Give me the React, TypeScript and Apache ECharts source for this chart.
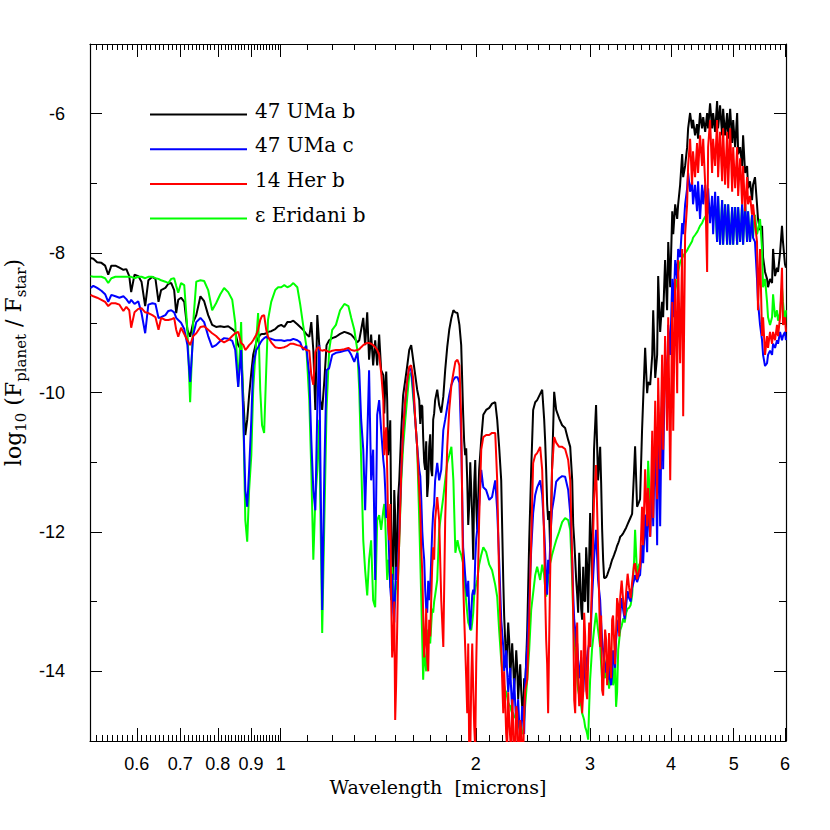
import React, { useEffect, useRef } from "react";
import * as echarts from "echarts";

// Wavelength grid in microns (shared by all four model spectra)
const WAVELENGTH = [
  0.509,0.514,0.521,0.529,0.536,0.542,0.548,0.556,0.564,0.572,
  0.578,0.584,0.588,0.595,0.603,0.610,0.618,0.625,0.634,0.641,
  0.648,0.654,0.664,0.671,0.678,0.685,0.690,0.695,0.702,0.710,
  0.718,0.725,0.733,0.741,0.752,0.762,0.773,0.784,0.795,0.807,
  0.818,0.830,0.842,0.851,0.860,0.869,0.876,0.882,0.888,0.894,
  0.901,0.907,0.917,0.923,0.930,0.936,0.943,0.950,0.956,0.967,
  0.981,0.991,1.002,1.013,1.024,1.035,
  1.046,1.061,1.072,1.083,1.095,1.107,1.115,1.123,1.131,1.139,
  1.147,1.151,1.159,1.168,1.177,1.188,1.201,1.217,1.235,1.254,
  1.272,1.285,1.299,1.313,1.322,1.331,1.341,1.350,1.360,1.369,
  1.379,1.389,1.399,1.409,1.419,1.429,1.440,1.450,1.460,1.471,
  1.481,1.492,1.502,1.513,1.524,1.535,1.545,1.557,1.568,1.579,
  1.590,1.601,1.613,1.624,1.636,1.648,1.659,1.671,1.683,1.695,
  1.707,1.719,1.731,1.744,1.756,1.769,1.782,1.794,1.807,1.820,
  1.834,1.847,1.860,1.874,1.887,1.899,1.912,1.926,1.940,1.954,
  1.968,1.982,1.996,2.010,2.024,2.039,2.054,2.075,2.098,2.119,
  2.143,2.158,2.173,2.189,2.205,2.220,2.236,2.252,2.268,2.284,
  2.301,2.317,2.334,2.350,2.367,2.384,2.401,2.418,2.435,2.452,
  2.470,2.487,2.514,2.532,2.550,2.568,2.586,2.604,2.622,2.642,
  2.661,2.689,2.718,2.747,2.777,2.797,2.817,2.837,2.857,2.877,
  2.898,2.918,2.939,2.960,2.981,3.002,3.022,3.044,3.066,3.088,
  3.111,3.133,3.155,3.178,3.200,3.223,3.246,3.269,3.292,3.317,
  3.341,3.376,3.412,3.448,3.485,3.510,3.522,3.547,3.572,
  3.585,3.610,3.624,3.650,3.676,3.689,3.716,3.743,3.756,3.783,
  3.809,3.823,3.850,3.877,3.891,3.918,3.946,3.962,3.990,4.019,
  4.033,4.061,4.090,4.104,4.133,4.163,4.178,4.207,4.237,4.252,
  4.282,4.312,4.327,4.358,4.389,4.405,4.436,4.468,4.486,4.518,
  4.549,4.565,4.597,4.630,4.647,4.680,4.713,4.730,4.763,4.798,
  4.815,4.849,4.884,4.902,4.937,4.972,4.990,5.025,5.061,5.079,
  5.115,5.151,5.169,5.206,5.243,5.261,5.298,5.336,5.355,5.392,
  5.431,5.450,5.490,5.529,5.549,5.588,5.628,5.648,5.688,5.729,
  5.750,5.790,5.831,5.852,5.894,5.935,5.956,5.998,6.019,
];

// log10(F_planet / F_star)
const UMA_B = [
  -8.07,-8.08,-8.13,-8.14,-8.18,-8.31,-8.18,-8.18,-8.21,-8.24,
  -8.23,-8.33,-8.56,-8.31,-8.33,-8.41,-8.76,-8.39,-8.34,-8.37,
  -8.70,-8.53,-8.50,-8.44,-8.43,-8.53,-8.86,-8.67,-8.64,-8.70,
  -9.10,-9.20,-8.99,-8.89,-8.62,-8.69,-8.89,-9.03,-9.06,-9.05,
  -9.06,-9.05,-9.09,-9.13,-9.32,-9.39,-10.11,-10.61,-10.39,-10.04,
  -9.71,-9.46,-9.28,-9.22,-9.17,-9.16,-9.16,-9.15,-9.13,-9.12,
  -9.09,-9.05,-9.03,-9.06,-8.99,-8.99,
  -8.97,-9.02,-9.06,-9.10,-9.16,-9.20,-8.99,-9.39,-10.25,-8.89,
  -9.32,-10.11,-10.25,-9.82,-9.32,-9.25,-9.22,-9.20,-9.16,-9.13,
  -9.15,-9.17,-9.22,-9.28,-9.25,-9.10,-8.93,-9.32,-8.85,-9.53,
  -9.17,-9.61,-9.25,-9.61,-9.17,-9.68,-9.75,-9.89,-10.11,-10.68,
  -11.83,-12.69,-11.76,-12.19,-11.26,-10.54,-10.04,-9.82,-9.61,-9.39,
  -9.32,-9.53,-9.75,-9.96,-10.11,-10.18,-10.64,-11.11,-11.50,-10.78,
  -11.11,-10.39,-10.11,-9.96,-10.18,-10.29,-10.06,-9.68,-9.35,-9.10,
  -8.93,-8.82,-8.85,-8.86,-9.03,-9.32,-10.29,-10.90,-11.26,-11.61,
  -11.40,-12.40,-10.97,-11.97,-11.11,-10.68,-10.32,-10.25,-10.22,-10.16,
  -10.14,-10.39,-10.78,-11.26,-12.69,-13.55,-13.65,-13.55,-13.84,-13.88,
  -14.02,-13.95,-14.12,-14.27,-14.60,-14.23,-13.41,-12.12,-11.11,-10.25,
  -10.14,-10.11,-10.02,-9.96,-10.39,-11.11,-11.83,-12.22,-11.11,-9.99,
  -10.25,-10.37,-10.47,-10.51,-10.68,-10.78,-11.26,-12.12,-12.69,-13.16,
  -12.69,-13.26,-12.98,-12.22,-13.16,-11.73,-12.69,-10.82,-10.18,-11.26,
  -10.78,-11.97,-12.66,-12.65,-12.58,-12.50,-12.40,-12.33,-12.25,-12.16,
  -12.07,-12.02,-11.94,-11.84,-11.74,-11.11,-10.77,-11.64,-11.57,
  -11.53,-10.55,-10.12,-9.36,-10.01,-9.85,-9.89,-9.46,-8.82,-9.79,
  -9.46,-8.33,-9.13,-8.70,-8.92,-8.10,-8.82,-7.84,-8.49,-7.40,
  -7.73,-7.30,-7.51,-7.30,-7.02,-6.58,-6.91,-6.75,-6.48,-6.21,
  -5.99,-6.21,-6.09,-6.31,-6.15,-6.36,-5.99,-6.21,-6.05,-6.26,
  -5.99,-6.21,-5.85,-6.21,-5.99,-6.26,-5.82,-6.21,-5.88,-6.31,
  -5.93,-6.31,-5.99,-6.36,-5.93,-6.42,-6.09,-6.48,-5.99,-6.58,
  -6.48,-6.75,-6.31,-6.85,-6.75,-7.07,-6.97,-7.24,-7.02,-6.91,
  -7.30,-7.51,-7.67,-7.61,-8.06,-8.27,-8.37,-8.49,-8.37,-8.43,
  -7.94,-8.33,-8.21,-8.27,-8.00,-7.61,-7.84,-8.16,-8.21,
];

const UMA_C = [
  -8.50,-8.47,-8.50,-8.54,-8.59,-8.70,-8.60,-8.62,-8.64,-8.62,
  -8.66,-8.72,-8.67,-8.73,-8.69,-8.86,-9.15,-8.74,-8.72,-8.73,
  -8.93,-8.92,-8.89,-8.83,-8.82,-8.85,-8.93,-8.96,-9.00,-9.09,
  -9.32,-9.85,-9.17,-8.99,-8.93,-8.99,-9.19,-9.35,-9.32,-9.26,
  -9.22,-9.23,-9.26,-9.39,-9.92,-9.39,-10.39,-11.40,-11.64,-11.11,
  -10.39,-9.61,-9.39,-9.35,-9.29,-9.25,-9.22,-9.20,-9.22,-9.23,
  -9.25,-9.25,-9.25,-9.26,-9.25,-9.25,
  -9.23,-9.25,-9.28,-9.39,-9.33,-9.75,-10.68,-11.40,-11.69,-10.25,
  -9.32,-10.82,-13.12,-11.11,-9.68,-9.65,-9.46,-9.43,-9.42,-9.40,
  -9.39,-9.46,-9.56,-9.43,-9.68,-10.39,-10.82,-11.69,-10.68,-9.68,
  -11.26,-10.82,-12.69,-10.32,-10.11,-10.54,-10.97,-11.40,-11.69,-12.40,
  -12.98,-13.16,-12.83,-12.69,-11.97,-11.11,-10.54,-10.11,-9.82,-9.65,
  -9.68,-9.96,-10.39,-10.78,-11.11,-11.54,-12.22,-12.83,-13.16,-12.98,
  -12.40,-11.73,-11.26,-11.01,-11.26,-11.11,-10.54,-10.39,-10.21,-10.04,
  -9.89,-9.82,-9.78,-9.78,-9.86,-10.68,-12.22,-12.62,-12.93,-13.12,
  -13.16,-12.83,-12.40,-11.97,-11.61,-11.11,-11.36,-11.40,-11.54,-11.50,
  -11.26,-11.69,-12.40,-13.26,-13.65,-13.84,-14.02,-14.12,-14.27,-14.37,
  -14.48,-14.60,-14.77,-14.84,-14.60,-14.12,-13.65,-12.98,-12.26,-11.73,
  -11.47,-11.36,-11.26,-11.47,-11.97,-12.69,-12.40,-12.22,-11.69,-11.50,
  -11.28,-11.23,-11.20,-11.21,-11.40,-11.73,-12.40,-13.26,-13.65,-13.84,
  -13.98,-14.12,-14.05,-13.88,-13.69,-13.65,-12.98,-12.40,-11.97,-12.69,
  -12.98,-13.55,-13.84,-14.02,-14.12,-14.12,-14.05,-13.84,-13.55,-13.26,
  -13.19,-13.12,-13.05,-12.95,-12.80,-12.69,-12.62,-12.72,-12.63,
  -12.62,-12.19,-12.45,-11.75,-12.29,-11.53,-12.07,-11.31,-11.92,-10.55,
  -12.19,-10.28,-11.92,-9.79,-11.10,-9.46,-10.01,-9.03,-9.46,-8.37,
  -8.92,-8.10,-8.37,-7.94,-8.06,-7.57,-7.73,-7.30,-7.07,-6.85,
  -7.12,-6.97,-7.30,-7.02,-7.40,-6.97,-7.51,-7.02,-7.30,-7.02,
  -7.45,-7.07,-7.57,-7.18,-7.73,-7.12,-7.84,-7.18,-7.88,-7.24,
  -7.88,-7.30,-7.88,-7.30,-7.88,-7.34,-7.88,-7.34,-7.88,-7.34,
  -7.84,-7.30,-7.88,-7.30,-7.84,-7.40,-7.84,-7.45,-7.78,-7.84,
  -8.37,-8.70,-9.03,-9.25,-9.46,-9.62,-9.58,-9.46,-9.40,-9.46,
  -9.30,-9.36,-9.25,-9.30,-9.13,-9.25,-9.19,-9.13,-9.25,
];

const HER_B = [
  -8.60,-8.62,-8.64,-8.67,-8.70,-8.76,-8.72,-8.72,-8.74,-8.83,
  -8.77,-8.82,-9.07,-8.85,-8.80,-8.79,-8.85,-8.86,-8.89,-8.92,
  -9.10,-8.93,-8.96,-8.96,-8.95,-8.93,-9.10,-9.20,-9.07,-9.16,
  -9.25,-9.32,-9.19,-9.15,-9.06,-9.05,-9.10,-9.15,-9.19,-9.25,
  -9.28,-9.25,-9.19,-9.15,-9.13,-9.29,-9.32,-9.39,-9.36,-9.32,
  -9.29,-9.25,-9.17,-9.10,-8.96,-8.90,-8.89,-9.10,-9.20,-9.28,
  -9.35,-9.36,-9.36,-9.35,-9.33,-9.30,
  -9.30,-9.32,-9.33,-9.36,-9.39,-9.40,-9.75,-9.89,-9.42,-9.36,
  -9.35,-9.39,-9.40,-9.39,-9.40,-9.42,-9.40,-9.39,-9.39,-9.38,
  -9.36,-9.39,-9.40,-9.39,-9.38,-9.35,-9.32,-9.30,-9.29,-9.29,
  -9.30,-9.32,-9.35,-9.39,-9.46,-9.71,-10.11,-10.68,-11.11,-12.12,
  -12.98,-13.55,-14.70,-13.34,-12.12,-11.11,-10.54,-10.11,-9.82,-9.63,
  -9.61,-9.79,-10.39,-10.78,-11.40,-12.26,-13.16,-13.55,-13.84,-13.26,
  -12.98,-12.22,-11.83,-11.50,-11.83,-12.98,-13.65,-11.83,-10.78,-10.25,
  -9.89,-9.72,-9.56,-9.53,-9.61,-10.39,-12.69,-13.65,-14.60,-15.20,
  -14.12,-14.27,-15.10,-13.16,-11.83,-10.82,-10.64,-10.61,-10.61,-10.58,
  -10.58,-11.26,-12.69,-13.69,-14.60,-14.41,-15.10,-14.70,-15.20,-14.70,
  -15.20,-14.60,-15.20,-14.84,-15.20,-14.27,-14.12,-13.26,-12.12,-11.01,
  -10.90,-10.87,-10.78,-11.11,-12.12,-13.55,-14.60,-12.69,-11.11,-10.64,
  -10.72,-10.78,-10.78,-10.81,-10.97,-11.26,-12.40,-14.41,-13.65,-14.12,
  -14.41,-14.60,-13.16,-14.27,-13.84,-13.65,-12.69,-11.54,-11.04,-12.22,
  -13.65,-14.27,-13.84,-13.55,-13.98,-13.88,-13.26,-13.55,-13.41,-13.05,
  -12.93,-12.98,-12.86,-12.80,-12.72,-12.47,-12.45,-12.68,-12.55,
  -12.50,-11.64,-12.19,-11.10,-11.92,-11.37,-12.07,-10.55,-11.80,-10.12,
  -11.53,-9.79,-11.10,-9.46,-10.82,-9.19,-10.55,-8.92,-11.26,-8.70,
  -10.55,-8.37,-10.01,-8.10,-9.58,-7.94,-10.34,-7.73,-7.30,-6.75,
  -6.36,-7.02,-6.54,-6.91,-6.42,-6.85,-6.31,-6.75,-6.36,-7.02,
  -8.27,-6.48,-6.09,-6.85,-6.36,-6.75,-6.09,-6.91,-6.26,-6.97,
  -6.21,-7.02,-6.26,-7.07,-6.21,-7.12,-6.48,-7.07,-6.48,-7.18,
  -6.64,-7.30,-6.75,-7.40,-6.91,-7.30,-7.18,-7.45,-7.30,-7.57,
  -7.84,-8.82,-7.94,-9.19,-8.92,-9.46,-9.19,-9.36,-9.13,-9.30,
  -9.13,-9.25,-9.03,-9.19,-8.92,-8.21,-9.03,-8.92,-9.13,
];

const ERI_B = [
  -8.33,-8.34,-8.34,-8.34,-8.36,-8.43,-8.36,-8.34,-8.34,-8.34,
  -8.34,-8.34,-8.34,-8.36,-8.34,-8.34,-8.36,-8.34,-8.34,-8.36,
  -8.37,-8.39,-8.41,-8.43,-8.37,-8.36,-8.47,-8.57,-8.43,-8.46,
  -9.10,-10.14,-8.99,-8.41,-8.39,-8.40,-8.53,-8.82,-8.72,-8.59,
  -8.50,-8.56,-8.67,-9.00,-9.92,-8.99,-10.39,-11.83,-12.14,-11.40,
  -10.90,-9.96,-9.25,-8.86,-9.96,-10.47,-10.58,-9.68,-8.96,-8.70,
  -8.53,-8.49,-8.49,-8.46,-8.49,-8.47,
  -8.43,-8.49,-8.74,-9.03,-9.32,-10.11,-11.11,-12.40,-11.54,-11.11,
  -10.39,-11.54,-13.45,-11.83,-10.25,-9.39,-9.10,-9.03,-8.82,-8.73,
  -8.76,-8.93,-9.10,-9.39,-9.96,-10.97,-12.12,-12.55,-12.91,-12.40,
  -12.12,-12.98,-13.08,-11.83,-11.76,-11.97,-11.69,-11.83,-12.69,-12.47,
  -12.62,-12.83,-12.98,-12.83,-12.12,-11.26,-10.78,-10.39,-10.06,-9.75,
  -9.72,-10.06,-10.39,-10.78,-11.83,-12.98,-14.12,-13.84,-13.65,-13.55,
  -13.34,-13.16,-12.91,-12.69,-11.97,-11.73,-11.50,-11.26,-11.01,-10.90,
  -10.78,-11.26,-12.30,-12.12,-12.26,-12.33,-12.45,-12.83,-13.16,-13.34,
  -13.41,-13.16,-12.83,-12.69,-12.47,-12.33,-12.22,-12.29,-12.47,-12.55,
  -12.76,-12.93,-13.41,-13.84,-14.12,-14.27,-14.37,-14.48,-14.56,-14.60,
  -14.66,-14.70,-14.81,-14.89,-14.84,-14.48,-14.12,-13.69,-13.12,-12.88,
  -12.62,-12.50,-12.69,-12.47,-12.62,-12.93,-12.69,-12.45,-12.33,-12.22,
  -12.12,-12.00,-11.86,-11.80,-11.83,-11.97,-12.69,-13.55,-13.88,-14.27,
  -14.41,-14.60,-14.70,-14.84,-14.98,-14.12,-13.69,-13.41,-13.16,-13.41,
  -13.65,-14.12,-13.98,-13.88,-14.05,-14.12,-13.84,-14.12,-14.51,-13.69,
  -13.41,-13.24,-13.16,-13.09,-12.91,-12.40,-11.97,-12.62,-12.47,
  -12.45,-12.29,-12.19,-12.04,-11.92,-10.98,-11.64,-11.33,-11.10,-10.97,
  -10.82,-10.68,-10.44,-10.17,-10.01,-9.89,-9.73,-9.53,-9.19,-8.93,
  -8.70,-8.53,-8.39,-8.27,-8.13,-8.07,-8.04,-8.00,-7.96,-7.93,
  -7.88,-7.83,-7.78,-7.74,-7.70,-7.67,-7.61,-7.57,-7.53,-7.48,
  -7.44,-7.41,-7.38,-7.35,-7.34,-7.32,-7.84,-7.18,-7.88,-7.24,
  -7.88,-7.30,-7.88,-7.30,-7.88,-7.34,-7.88,-7.34,-7.88,-7.34,
  -7.84,-7.30,-7.88,-7.30,-7.84,-7.40,-7.84,-7.45,-7.78,-7.45,
  -7.73,-7.67,-7.51,-7.94,-8.49,-8.37,-8.70,-8.92,-9.03,-8.92,
  -8.59,-8.92,-8.82,-8.97,-8.86,-8.49,-8.70,-9.03,-8.82,
];

// Extra samples read inside the densest absorption bands (same units)
const WAVELENGTH_FINE = [
  1.445,1.455,1.465,1.476,1.486,1.497,1.507,1.518,
  1.642,1.654,1.665,1.677,1.689,1.701,1.713,1.725,
  1.919,1.933,1.947,1.961,1.975,1.989,2.003,
  2.212,2.228,2.244,2.260,2.276,2.292,2.309,2.325,2.342,2.358,2.375,
  2.559,2.577,2.595,2.613,
  2.827,2.847,2.867,2.888,2.908,2.929,2.950,2.971,2.992,
  3.122,3.144,3.166,3.189,3.211,3.234,3.257,3.280,3.304,3.329,3.358,3.394,3.430,3.467,
];
const UMA_B_FINE = [
  -10.30,-9.70,-10.90,-10.40,-12.40,-11.40,-12.60,-11.50,
  -10.45,-10.20,-11.00,-10.70,-11.30,-10.60,-11.20,-10.30,
  -10.70,-10.80,-11.90,-11.00,-11.80,-11.30,-11.60,
  -13.20,-13.95,-13.30,-14.10,-13.60,-14.25,-13.70,-14.40,-13.90,-14.50,-14.10,
  -10.70,-11.60,-11.70,-11.80,
  -11.90,-12.40,-12.90,-12.30,-13.10,-12.50,-13.00,-12.50,-12.40,
  -11.30,-12.40,-12.66,-12.62,-12.54,-12.45,-12.37,-12.29,-12.20,-12.12,-12.05,-11.98,-11.89,-11.79,
];
const UMA_C_FINE = [
  -11.10,-11.80,-11.90,-12.80,-12.60,-13.30,-12.50,-12.40,
  -11.20,-12.00,-12.40,-13.10,-12.70,-12.80,-12.00,-11.60,
  -12.40,-12.80,-12.70,-13.40,-12.90,-12.90,-12.10,
  -14.00,-13.70,-14.30,-13.95,-14.55,-14.10,-14.75,-14.40,-15.00,-14.50,-14.90,
  -12.30,-12.90,-12.60,-11.90,
  -12.90,-13.40,-13.60,-14.10,-13.80,-14.30,-13.70,-14.00,-13.60,
  -13.30,-13.70,-13.90,-13.95,-13.90,-14.20,-13.70,-13.95,-13.40,-13.45,-12.95,-13.25,-12.85,-13.00,
];
const HER_B_FINE = [
  -10.90,-10.50,-11.90,-11.60,-13.80,-13.00,-14.20,-12.60,
  -11.70,-12.60,-13.80,-13.10,-14.00,-13.50,-12.50,-12.40,
  -13.20,-14.10,-13.60,-15.20,-13.60,-14.80,-13.90,
  -14.00,-14.90,-14.30,-14.95,-14.40,-15.20,-14.50,-15.20,-14.70,-15.20,-14.60,
  -12.90,-13.90,-13.60,-11.90,
  -13.20,-14.60,-13.30,-14.50,-13.70,-14.30,-13.50,-14.40,-13.30,
  -13.20,-14.35,-13.40,-14.20,-13.45,-14.10,-13.20,-13.90,-12.95,-13.50,-12.70,-13.20,-12.60,-12.95,
];
const ERI_B_FINE = [
  -11.60,-12.30,-12.40,-12.80,-12.50,-13.10,-12.70,-12.60,
  -12.40,-13.60,-13.70,-14.00,-13.40,-13.60,-13.10,-13.00,
  -12.60,-13.00,-13.30,-13.40,-13.30,-12.90,-12.75,
  -14.20,-14.30,-14.45,-14.50,-14.60,-14.65,-14.70,-14.75,-14.85,-14.90,-14.70,
  -12.80,-12.80,-12.55,-12.40,
  -13.20,-13.70,-14.10,-14.35,-14.50,-14.65,-14.80,-14.90,-14.50,
  -13.90,-14.05,-14.10,-13.80,-14.25,-13.95,-14.20,-13.85,-14.30,-13.55,-13.35,-13.30,-13.10,-13.05,
];

const SERIES_NAMES = ["47 UMa b", "47 UMa c", "14 Her b", "\u03b5 Eridani b"];
const SERIES_COLORS = ["#000000", "#0000ff", "#ff0000", "#00ff00"];

// axis ranges and tick positions (microns / log flux ratio)
const X_RANGE = [0.508, 6.02];
const Y_RANGE = [-15, -5];
const X_MAJOR = [0.6, 0.7, 0.8, 0.9, 1, 2, 3, 4, 5, 6];
const Y_MAJOR = [-14, -12, -10, -8, -6];
const Y_MINOR = [-13, -11, -9, -7];

function minorX(): number[] {
  const out: number[] = [];
  for (let k = 52; k <= 99; k++) if (k % 10 !== 0) out.push(k / 100);
  for (let k = 11; k <= 59; k++) if (k % 10 !== 0) out.push(k / 10);
  return out;
}

const lg = (v: number) => Math.log10(v);

function buildSeries(coarse: number[], fine: number[]): number[][] {
  const pts: number[][] = [];
  const n = Math.min(WAVELENGTH.length, coarse.length);
  for (let i = 0; i < n; i++) pts.push([WAVELENGTH[i], coarse[i]]);
  const m = Math.min(WAVELENGTH_FINE.length, fine.length);
  for (let i = 0; i < m; i++) pts.push([WAVELENGTH_FINE[i], fine[i]]);
  pts.sort((a, b) => a[0] - b[0]);
  return pts.map((p) => [lg(p[0]), p[1]]);
}

export default function App() {
  const ref = useRef<HTMLDivElement>(null);

  useEffect(() => {
    if (!ref.current) return;
    const chart = echarts.init(ref.current, undefined, { renderer: "svg" });
    const seriesData = [
      buildSeries(UMA_B, UMA_B_FINE),
      buildSeries(UMA_C, UMA_C_FINE),
      buildSeries(HER_B, HER_B_FINE),
      buildSeries(ERI_B, ERI_B_FINE),
    ];
    const drawOrder = [0, 3, 1, 2];

    const xMajor = X_MAJOR.map(lg);
    const xMinor = minorX().map(lg);
    const axisLineStyle = { color: "#000", width: 1.2 };
    const tickStyle = { color: "#000", width: 1 };
    const baseX = {
      type: "value",
      min: lg(X_RANGE[0]),
      max: lg(X_RANGE[1]),
      splitLine: { show: false },
      axisLine: { show: false, onZero: false },
      axisLabel: { show: false },
      axisTick: { show: false },
    };
    const baseY = {
      type: "value",
      min: Y_RANGE[0],
      max: Y_RANGE[1],
      splitLine: { show: false },
      axisLine: { show: false, onZero: false },
      axisLabel: { show: false },
      axisTick: { show: false },
    };
    const tickFont = { color: "#000", fontSize: 18, fontFamily: "'Liberation Sans', Arial, sans-serif" };
    const serif = "'DejaVu Serif', 'Liberation Serif', serif";

    const legendY = [114.5, 149.2, 183.9, 218.6];
    const graphic: any[] = [];
    SERIES_NAMES.forEach((name, i) => {
      graphic.push({
        type: "line",
        shape: { x1: 150, y1: legendY[i], x2: 247, y2: legendY[i] },
        style: { stroke: SERIES_COLORS[i], lineWidth: 2 },
        silent: true,
      });
      graphic.push({
        type: "text",
        x: 255,
        y: legendY[i] - 4,
        style: {
          text: name,
          fill: "#000",
          fontSize: 20,
          fontFamily: serif,
          verticalAlign: "middle",
          align: "left",
        },
        silent: true,
      });
    });

    chart.setOption({
      animation: false,
      backgroundColor: "#ffffff",
      grid: { left: 90, right: 44, top: 44, bottom: 89, containLabel: false, outerBoundsMode: "none" },
      xAxis: [
        {
          ...baseX,
          position: "bottom",
          axisLine: { show: true, onZero: false, lineStyle: axisLineStyle },
          axisTick: { show: true, inside: true, length: 13, customValues: xMajor, lineStyle: tickStyle },
          axisLabel: {
            show: true,
            customValues: xMajor,
            margin: 14,
            ...tickFont,
            formatter: (v: number) => String(Math.round(Math.pow(10, v) * 10) / 10),
          },
          name: "Wavelength  [microns]",
          nameLocation: "middle",
          nameGap: 36,
          nameTextStyle: { color: "#000", fontSize: 19, fontFamily: serif },
        },
        {
          ...baseX,
          position: "bottom",
          axisTick: { show: true, inside: true, length: 6, customValues: xMinor, lineStyle: tickStyle },
        },
        {
          ...baseX,
          position: "top",
          axisLine: { show: true, onZero: false, lineStyle: axisLineStyle },
          axisTick: { show: true, inside: true, length: 13, customValues: xMajor, lineStyle: tickStyle },
        },
        {
          ...baseX,
          position: "top",
          axisTick: { show: true, inside: true, length: 6, customValues: xMinor, lineStyle: tickStyle },
        },
      ],
      yAxis: [
        {
          ...baseY,
          position: "left",
          axisLine: { show: true, onZero: false, lineStyle: axisLineStyle },
          axisTick: { show: true, inside: true, length: 12, customValues: Y_MAJOR, lineStyle: tickStyle },
          axisLabel: { show: true, customValues: Y_MAJOR, margin: 25, ...tickFont },
          name: "{a|log}{s|10}{a| (F}{s|planet}{a| / F}{s|star}{a|)}",
          nameLocation: "middle",
          nameGap: 58,
          nameRotate: 90,
          nameTextStyle: {
            color: "#000",
            padding: [0, 0, 0, 60],
            rich: {
              a: { fontSize: 22, fontFamily: serif, color: "#000", lineHeight: 30, verticalAlign: "middle" },
              s: { fontSize: 15, fontFamily: serif, color: "#000", lineHeight: 15, verticalAlign: "bottom" },
            },
          },
        },
        {
          ...baseY,
          position: "left",
          axisTick: { show: true, inside: true, length: 7, customValues: Y_MINOR, lineStyle: tickStyle },
        },
        {
          ...baseY,
          position: "right",
          axisLine: { show: true, onZero: false, lineStyle: axisLineStyle },
          axisTick: { show: true, inside: true, length: 12, customValues: Y_MAJOR, lineStyle: tickStyle },
        },
        {
          ...baseY,
          position: "right",
          axisTick: { show: true, inside: true, length: 7, customValues: Y_MINOR, lineStyle: tickStyle },
        },
      ],
      series: drawOrder.map((i) => ({
        name: SERIES_NAMES[i],
        type: "line",
        xAxisIndex: 0,
        yAxisIndex: 0,
        data: seriesData[i],
        showSymbol: false,
        symbol: "none",
        clip: true,
        silent: true,
        lineStyle: { color: SERIES_COLORS[i], width: 2 },
        itemStyle: { color: SERIES_COLORS[i] },
      })),
      graphic,
    });
    return () => chart.dispose();
  }, []);

  return (
    <div
      ref={ref}
      style={{ position: "fixed", left: 0, top: 0, width: 830, height: 830, background: "#fff" }}
    />
  );
}
